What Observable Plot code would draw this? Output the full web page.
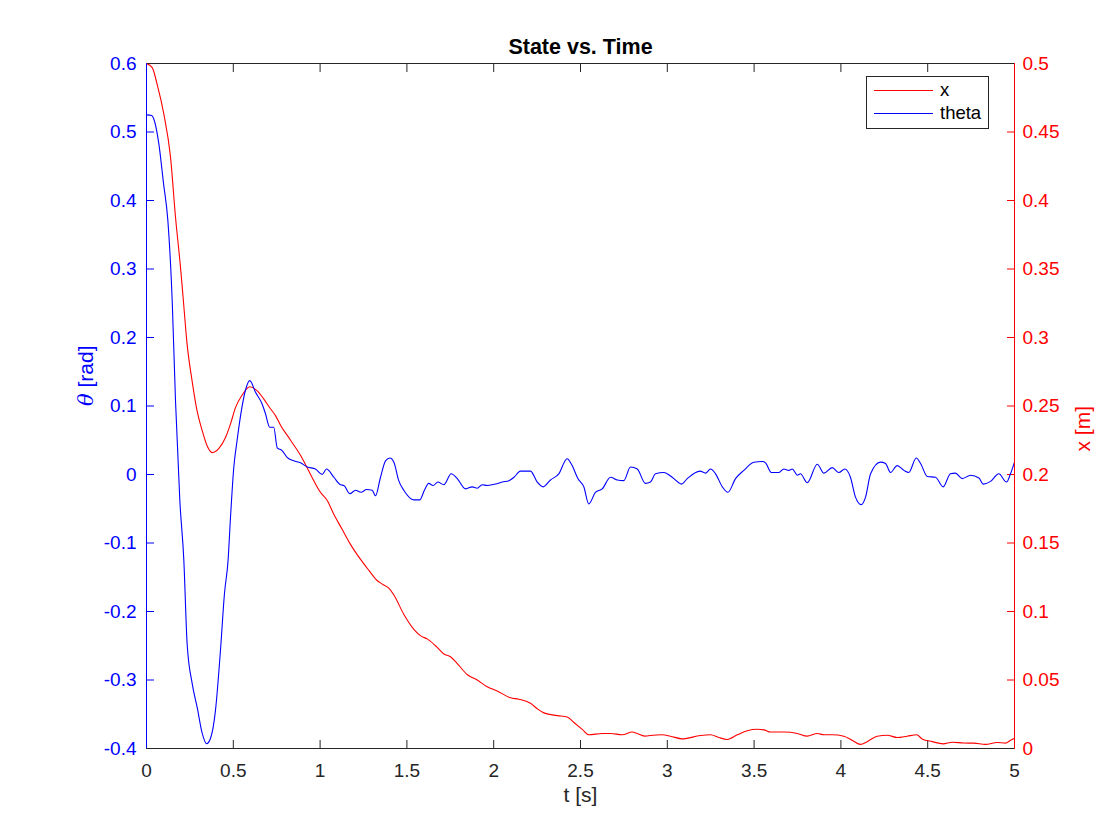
<!DOCTYPE html>
<html>
<head>
<meta charset="utf-8">
<script src="https://cdn.jsdelivr.net/npm/d3@7"></script>
<script src="https://cdn.jsdelivr.net/npm/@observablehq/plot@0.6"></script>
<style>
  html, body { margin: 0; padding: 0; background: #fff; }
  #wrap { position: relative; width: 1120px; height: 840px; font-family: "Liberation Sans", Arial, Helvetica, sans-serif; }
  #legend { position: absolute; left: 866px; top: 76px; width: 123px; height: 53px; box-sizing: border-box; border: 1px solid #262626; background: #fff; }
  .lg-line { position: absolute; left: 7px; width: 59px; height: 1px; }
  .lg-text { position: absolute; left: 73px; font-size: 18.5px; line-height: 19px; color: #000; }
</style>
</head>
<body>
<div id="wrap">
  <div id="chart"></div>
  <div id="legend">
    <div class="lg-line" style="top:13px;background:#ff0000"></div>
    <div class="lg-text" style="top:3px">x</div>
    <div class="lg-line" style="top:36px;background:#0000ff"></div>
    <div class="lg-text" style="top:26px">theta</div>
  </div>
</div>
<script>
// ---- data ----
const tTheta = [0, 0.03, 0.042, 0.071, 0.098, 0.123, 0.148, 0.167, 0.192, 0.215, 0.234, 0.263, 0.292, 0.321, 0.346, 0.369, 0.397, 0.426, 0.449, 0.470, 0.484, 0.503, 0.522, 0.547, 0.570, 0.595, 0.628, 0.666, 0.685, 0.710, 0.733, 0.753, 0.781, 0.81, 0.849, 0.887, 0.926, 0.973, 1.012, 1.037, 1.079, 1.118, 1.137, 1.171, 1.204, 1.236, 1.267, 1.30, 1.319, 1.348, 1.377, 1.402, 1.425, 1.453, 1.482, 1.540, 1.574, 1.601, 1.626, 1.651, 1.678, 1.713, 1.755, 1.790, 1.838, 1.876, 1.905, 1.934, 1.963, 2.011, 2.049, 2.088, 2.117, 2.154, 2.212, 2.251, 2.285, 2.327, 2.375, 2.423, 2.452, 2.485, 2.519, 2.548, 2.586, 2.625, 2.673, 2.712, 2.749, 2.788, 2.827, 2.874, 2.903, 2.932, 2.980, 3.028, 3.082, 3.115, 3.188, 3.220, 3.249, 3.278, 3.317, 3.349, 3.393, 3.441, 3.499, 3.547, 3.566, 3.599, 3.643, 3.671, 3.700, 3.720, 3.749, 3.767, 3.806, 3.864, 3.902, 3.950, 3.988, 4.023, 4.055, 4.084, 4.117, 4.142, 4.171, 4.228, 4.257, 4.286, 4.324, 4.363, 4.391, 4.434, 4.459, 4.498, 4.545, 4.589, 4.631, 4.660, 4.699, 4.747, 4.795, 4.820, 4.862, 4.910, 4.954, 4.977, 5.0];
const thetaVals = [0.525, 0.524, 0.519, 0.483, 0.425, 0.371, 0.254, 0.108, -0.038, -0.125, -0.247, -0.305, -0.340, -0.378, -0.393, -0.385, -0.345, -0.257, -0.174, -0.125, -0.062, 0.011, 0.050, 0.094, 0.123, 0.137, 0.120, 0.103, 0.089, 0.069, 0.069, 0.039, 0.035, 0.025, 0.020, 0.017, 0.011, 0.008, 0.0, 0.008, -0.004, -0.015, -0.016, -0.028, -0.023, -0.026, -0.022, -0.023, -0.031, -0.004, 0.020, 0.024, 0.018, -0.009, -0.023, -0.037, -0.037, -0.023, -0.013, -0.016, -0.011, -0.015, 0.001, -0.006, -0.021, -0.018, -0.020, -0.015, -0.016, -0.014, -0.011, -0.009, -0.004, 0.005, 0.005, -0.011, -0.018, -0.008, 0.001, 0.023, 0.013, -0.006, -0.018, -0.043, -0.026, -0.021, -0.004, -0.008, -0.009, 0.011, 0.008, -0.013, -0.011, 0.001, 0.003, -0.004, -0.014, -0.006, 0.005, 0.002, 0.008, 0.001, -0.018, -0.026, -0.006, 0.006, 0.018, 0.019, 0.017, 0.003, 0.003, 0.008, 0.006, 0.008, -0.001, 0.001, -0.012, 0.015, 0.002, 0.010, 0.003, 0.008, -0.004, -0.033, -0.044, -0.033, 0.001, 0.018, 0.016, 0.003, 0.013, 0.006, 0.003, 0.024, 0.016, -0.003, -0.004, -0.018, 0.001, 0.002, -0.006, -0.001, -0.005, -0.014, -0.010, 0.001, -0.011, 0.001, 0.018];

const tX = [0, 0.033, 0.061, 0.10, 0.138, 0.167, 0.196, 0.211, 0.234, 0.263, 0.292, 0.321, 0.349, 0.378, 0.417, 0.455, 0.484, 0.513, 0.551, 0.595, 0.638, 0.676, 0.714, 0.743, 0.772, 0.830, 0.887, 0.945, 1.002, 1.041, 1.079, 1.127, 1.175, 1.233, 1.281, 1.325, 1.358, 1.396, 1.425, 1.482, 1.540, 1.582, 1.617, 1.665, 1.713, 1.751, 1.790, 1.847, 1.905, 1.963, 2.020, 2.097, 2.145, 2.212, 2.251, 2.289, 2.366, 2.423, 2.462, 2.510, 2.548, 2.625, 2.673, 2.740, 2.798, 2.827, 2.874, 2.903, 2.970, 3.018, 3.086, 3.191, 3.249, 3.297, 3.345, 3.403, 3.461, 3.518, 3.557, 3.594, 3.671, 3.749, 3.806, 3.864, 3.902, 3.950, 4.017, 4.065, 4.113, 4.151, 4.209, 4.267, 4.324, 4.382, 4.436, 4.468, 4.526, 4.589, 4.641, 4.708, 4.766, 4.833, 4.900, 4.948, 4.977, 5.0];
const xVals = [0.5, 0.497, 0.485, 0.463, 0.432, 0.388, 0.351, 0.329, 0.295, 0.268, 0.246, 0.232, 0.221, 0.216, 0.219, 0.227, 0.237, 0.249, 0.258, 0.264, 0.261, 0.255, 0.248, 0.243, 0.236, 0.225, 0.214, 0.200, 0.187, 0.181, 0.171, 0.160, 0.149, 0.138, 0.130, 0.123, 0.120, 0.117, 0.112, 0.098, 0.087, 0.082, 0.080, 0.075, 0.069, 0.067, 0.062, 0.054, 0.050, 0.045, 0.042, 0.037, 0.036, 0.033, 0.029, 0.026, 0.024, 0.023, 0.019, 0.014, 0.010, 0.011, 0.011, 0.010, 0.012, 0.011, 0.009, 0.0095, 0.010, 0.009, 0.007, 0.0095, 0.010, 0.008, 0.0066, 0.010, 0.013, 0.014, 0.0136, 0.012, 0.012, 0.011, 0.009, 0.011, 0.010, 0.010, 0.009, 0.006, 0.003, 0.005, 0.009, 0.0097, 0.008, 0.009, 0.010, 0.007, 0.005, 0.0034, 0.0046, 0.004, 0.0039, 0.003, 0.0044, 0.0039, 0.006, 0.0075];

const tTicks = [0, 0.5, 1, 1.5, 2, 2.5, 3, 3.5, 4, 4.5, 5];
const thetaTicks = [-0.4, -0.3, -0.2, -0.1, 0, 0.1, 0.2, 0.3, 0.4, 0.5, 0.6];
const xmTicks = [0, 0.05, 0.1, 0.15, 0.2, 0.25, 0.3, 0.35, 0.4, 0.45, 0.5];

const titleText = "State vs. Time";
const xLabel = "t [s]";
const thetaLabel = "θ [rad]";
const xmLabel = "x [m]";

// ---- right axis (x [m], 0..0.5) mapped onto the left theta domain (-0.4..0.6) ----
const thetaDomain = [-0.4, 0.6];
const xmDomain = [0, 0.5];
const k = (thetaDomain[1] - thetaDomain[0]) / (xmDomain[1] - xmDomain[0]);
const toTheta = v => thetaDomain[0] + (v - xmDomain[0]) * k;
const fromTheta = d => xmDomain[0] + (d - thetaDomain[0]) / k;

const thetaData = tTheta.map((t, i) => ({t, v: thetaVals[i]}));
const xData = tX.map((t, i) => ({t, v: xVals[i]}));

const BLUE = "#0000ff", RED = "#ff0000", AX = "#262626";
const fmt = d => String(+(+d).toFixed(3));
const TICK_FS = 19;

const chart = Plot.plot({
  width: 1120,
  height: 840,
  marginLeft: 146,
  marginRight: 106,
  marginTop: 63,
  marginBottom: 92,
  x: {domain: [0, 5], label: null},
  y: {domain: thetaDomain, label: null},
  style: {fontFamily: '"Liberation Sans", Arial, Helvetica, sans-serif', fontSize: "19px", background: "#fff", color: "#000"},
  marks: [
    // bottom axis labels + inward ticks
    Plot.axisX(tTicks, {anchor: "bottom", tickSize: 0, tickPadding: 15, fill: AX, fontSize: TICK_FS, tickFormat: fmt, label: null}),
    Plot.axisX(tTicks, {anchor: "bottom", tickSize: -8, stroke: AX, fill: "none", label: null}),
    Plot.axisX(tTicks, {anchor: "top", tickSize: -8, stroke: AX, fill: "none", label: null}),
    // left theta axis
    Plot.axisY(thetaTicks, {anchor: "left", tickSize: 0, tickPadding: 10, fill: BLUE, fontSize: TICK_FS, tickFormat: fmt, label: null}),
    Plot.axisY(thetaTicks, {anchor: "left", tickSize: -8, stroke: BLUE, fill: "none", label: null}),
    // right x axis
    Plot.axisY(xmTicks.map(toTheta), {anchor: "right", tickSize: 0, tickPadding: 8, fill: RED, fontSize: TICK_FS, tickFormat: d => fmt(fromTheta(d)), label: null}),
    Plot.axisY(xmTicks.map(toTheta), {anchor: "right", tickSize: -8, stroke: RED, fill: "none", label: null}),
    // box
    Plot.ruleY([thetaDomain[1]], {stroke: AX}),
    Plot.ruleY([thetaDomain[0]], {stroke: AX}),
    // series
    Plot.line(xData, {x: "t", y: d => toTheta(d.v), stroke: RED, strokeWidth: 1.1, curve: "monotone-x"}),
    Plot.line(thetaData, {x: "t", y: "v", stroke: BLUE, strokeWidth: 1.1, curve: "monotone-x"}),
    Plot.ruleX([0], {stroke: BLUE}),
    Plot.ruleX([5], {stroke: RED}),
    // texts
    Plot.text([titleText], {frameAnchor: "top", dy: -16, text: d => d, fontWeight: "bold", fontSize: 21.5, fill: "#000", lineAnchor: "middle"}),
    Plot.text([xLabel], {frameAnchor: "bottom", dy: 47, text: d => d, fontSize: 21, fill: AX, lineAnchor: "middle"}),
    Plot.text([thetaLabel], {frameAnchor: "left", dx: -60, text: d => d, rotate: -90, fontSize: 21, fill: BLUE, lineAnchor: "middle"}),
    Plot.text([xmLabel], {frameAnchor: "right", dx: 69, text: d => d, rotate: -90, fontSize: 21, fill: RED, lineAnchor: "middle"})
  ]
});

// italic theta like MATLAB's TeX rendering
chart.querySelectorAll("text").forEach(el => {
  if (el.textContent === thetaLabel) {
    el.textContent = "";
    const ns = "http://www.w3.org/2000/svg";
    const a = document.createElementNS(ns, "tspan");
    a.setAttribute("font-style", "italic");
    a.setAttribute("font-family", '"DejaVu Serif", serif');
    a.textContent = "θ";
    const b = document.createElementNS(ns, "tspan");
    b.textContent = " [rad]";
    el.appendChild(a);
    el.appendChild(b);
  }
});

document.getElementById("chart").appendChild(chart);
</script>
</body>
</html>
